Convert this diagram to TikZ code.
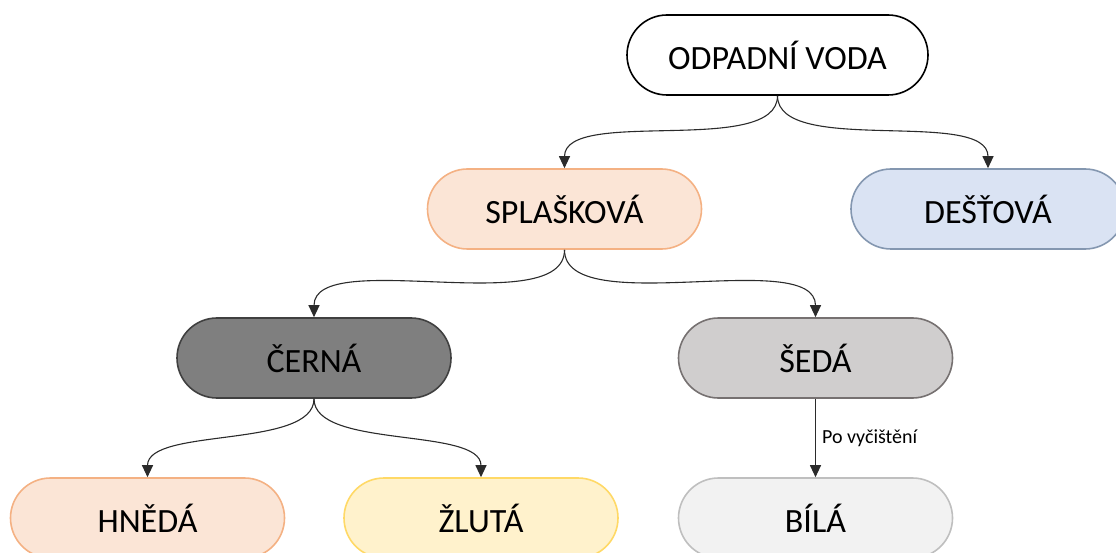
\documentclass[tikz,border=0pt]{standalone}
\usepackage{fontspec}
\setmainfont{Carlito}
\usetikzlibrary{arrows.meta}

\definecolor{peachfill}{HTML}{FBE5D6}
\definecolor{peachline}{HTML}{F4B183}
\definecolor{bluefill}{HTML}{DAE3F3}
\definecolor{blueline}{HTML}{8497B0}
\definecolor{darkfill}{HTML}{7F7F7F}
\definecolor{darkline}{HTML}{404040}
\definecolor{greyfill}{HTML}{D0CECE}
\definecolor{greyline}{HTML}{767171}
\definecolor{whitefill}{HTML}{F2F2F2}
\definecolor{whiteline}{HTML}{BFBFBF}
\definecolor{yellowfill}{HTML}{FFF2CC}
\definecolor{yellowline}{HTML}{FFD966}
\definecolor{wire}{HTML}{2B2B2B}

\tikzset{
  pill/.style={rectangle, rounded corners=40pt, minimum width=274pt,
    minimum height=80pt, inner sep=0pt, line width=1.6pt,
    font=\fontsize{34}{40}\selectfont, text=black},
  conn/.style={draw=wire, line width=1.1pt,
    -{Triangle[length=12pt,width=11pt]}},
  curve/.style={out=-90, in=90, looseness=0.7},
  lbl/.style={font=\fontsize{20}{24}\selectfont, text=black, inner sep=6pt}
}

\begin{document}
\begin{tikzpicture}[x=1pt,y=-1pt]
  \useasboundingbox (0,0) rectangle (1116,553);

  % top level
  \node[pill, draw=black, fill=white, minimum width=301pt] (odpad) at (777.5,55) {ODPADNÍ VODA};

  % second level
  \node[pill, draw=peachline, fill=peachfill] (splas) at (564.5,209) {SPLAŠKOVÁ};
  \node[pill, draw=blueline, fill=bluefill] (destova) at (988,209) {DEŠŤOVÁ};

  % third level
  \node[pill, draw=darkline, fill=darkfill] (cerna) at (314,358) {ČERNÁ};
  \node[pill, draw=greyline, fill=greyfill] (seda) at (815.5,358) {ŠEDÁ};

  % fourth level
  \node[pill, draw=peachline, fill=peachfill] (hneda) at (147.5,518) {HNĚDÁ};
  \node[pill, draw=yellowline, fill=yellowfill] (zluta) at (481,518) {ŽLUTÁ};
  \node[pill, draw=whiteline, fill=whitefill] (bila) at (815.5,518) {BÍLÁ};

  % connectors
  \draw[conn] (odpad.south) to[curve] (splas.north);
  \draw[conn] (odpad.south) to[curve] (destova.north);
  \draw[conn] (splas.south) to[curve] (cerna.north);
  \draw[conn] (splas.south) to[curve] (seda.north);
  \draw[conn] (cerna.south) to[curve] (hneda.north);
  \draw[conn] (cerna.south) to[curve] (zluta.north);
  \draw[conn] (seda.south) -- node[lbl, right] (cisteni) {Po vyčištění} (bila.north);
\end{tikzpicture}
\end{document}
